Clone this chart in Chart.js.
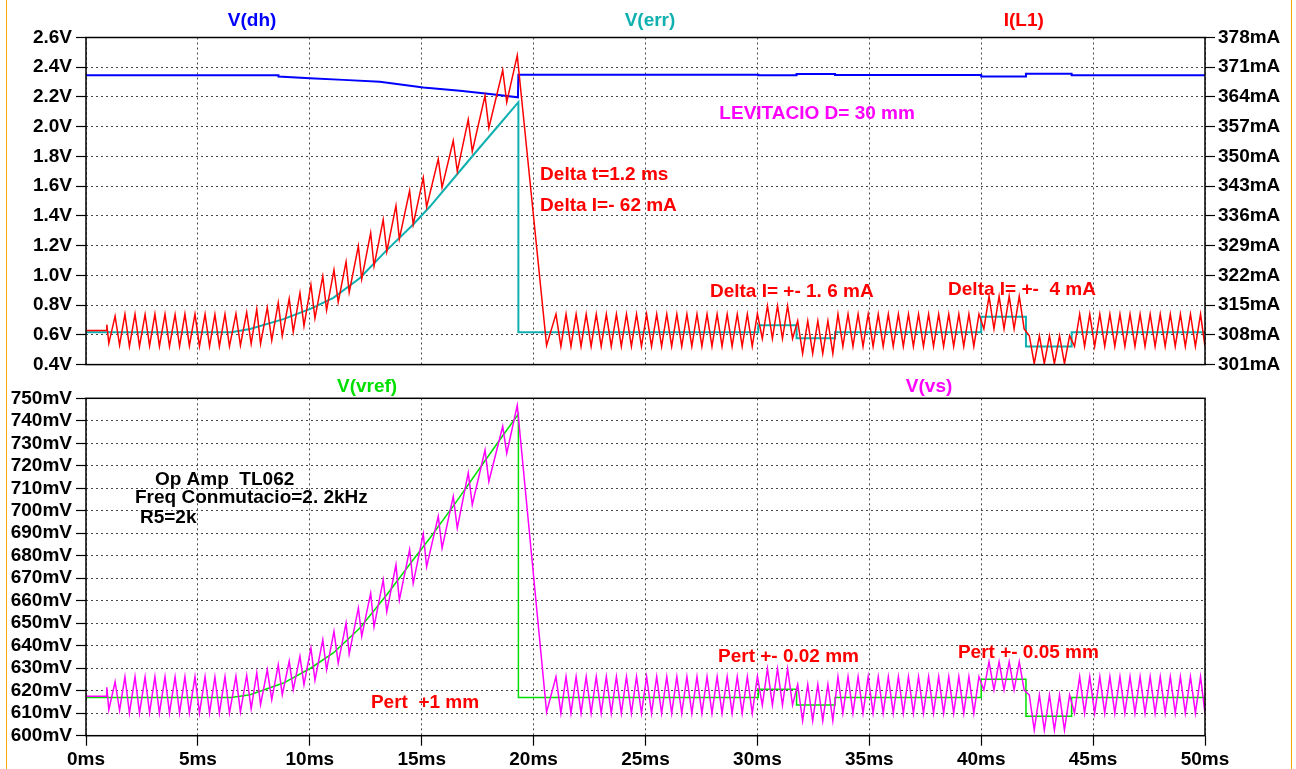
<!DOCTYPE html>
<html><head><meta charset="utf-8">
<script src="https://cdn.jsdelivr.net/npm/chart.js@4/dist/chart.umd.min.js"></script>
<style>
html,body{margin:0;padding:0;background:#fff;overflow:hidden;width:1296px;height:769px;}
#frame{position:absolute;left:6px;top:0;width:1286px;height:769px;border-left:1.5px solid #f5a800;border-right:1.5px solid #f5a800;box-sizing:border-box;}
canvas{position:absolute;left:0;}
#c1{top:0;} #c2{top:370px;}
</style></head><body>
<div id="frame"></div>
<canvas id="c1" width="1296" height="380"></canvas>
<canvas id="c2" width="1296" height="399"></canvas>
<script>
// ---------- tick labels ----------
const timeTicks = [0,5,10,15,20,25,30,35,40,45,50];
const dhTicks = [0.4,0.6,0.8,1.0,1.2,1.4,1.6,1.8,2.0,2.2,2.4,2.6];
const ilTicks = [301,308,315,322,329,336,343,350,357,364,371,378];
const vsTicks = [600,610,620,630,640,650,660,670,680,690,700,710,720,730,740,750];

// ---------- V(dh) ----------
const dhT = [0,8.6,8.6,10.0,11.5,13.13,15.07,16.71,18.05,19.30,19.32,30.04,30.04,31.75,31.75,33.47,33.47,40.0,40.0,42.0,42.0,44.04,44.04,50];
const dhV = [2.346,2.346,2.338,2.326,2.315,2.302,2.264,2.242,2.220,2.198,2.350,2.350,2.346,2.346,2.354,2.354,2.348,2.348,2.337,2.337,2.356,2.356,2.346,2.346];

// ---------- V(err) ----------
const errT = [0,6.5,7.33,8.82,10.05,11.05,12.24,13.44,14.62,15.37,16.5,17.45,18.5,19.32,19.32,30.04,30.04,31.75,31.75,33.47,33.47,40.0,40.0,42.0,42.0,44.04,44.04,50];
const errV = [0.617,0.617,0.639,0.706,0.776,0.849,0.982,1.170,1.342,1.463,1.665,1.835,2.020,2.165,0.617,0.617,0.665,0.665,0.577,0.577,0.617,0.617,0.721,0.721,0.522,0.522,0.617,0.617];

// ---------- V(vref) ----------
const vrefT = [0,6.5,7.33,8.82,10.05,11.05,12.24,13.44,14.62,15.37,16.56,17.6,18.65,19.32,19.32,30.04,30.04,31.75,31.75,33.47,33.47,40.0,40.0,42.0,42.0,44.04,44.04,50];
const vrefV = [617.0,617.0,618.2,623.4,630.1,636.8,647.9,662.7,678.2,687.9,704.2,719.0,733.8,743.0,617.0,617.0,620.7,620.7,613.6,613.6,617.0,617.0,625.1,625.1,608.7,608.7,617.0,617.0];

// ---------- switching waveforms: lead-in, then peak / trough per cycle ----------
const leadT = [0,0.90,0.93,1.02];
const ilLead = [309.0,309.0,310.4,306.0];
const vsLead = [617.5,617.5,621.5,611.5];

const swPeakT = [
 1.30,1.74,2.19,2.64,3.08,3.53,3.98,4.42,4.87,5.32,5.76,6.21,6.70,7.18,
 7.63,8.10,8.59,9.08,9.56,10.05,10.58,11.08,11.62,12.17,12.72,13.28,13.85,14.46,15.07,15.74,16.41,17.08,17.83,18.62,19.27,
 21.00,21.45,21.90,22.35,22.80,23.25,23.70,24.15,24.60,25.05,25.50,25.95,26.40,26.85,27.30,27.75,28.20,28.65,29.10,29.55,
 30.00,30.45,30.90,31.35,31.80,32.25,32.70,33.15,33.60,34.05,34.50,34.95,35.40,35.85,36.30,36.75,37.20,37.65,38.10,38.55,
 39.00,39.45,39.90,40.35,40.80,41.25,41.70,42.15,42.60,43.05,43.50,43.95,44.40,44.85,45.30,45.75,46.20,46.65,47.10,47.55,
 48.00,48.45,48.90,49.35,49.80];
const swTroughT = [
 1.50,1.94,2.39,2.84,3.28,3.73,4.18,4.62,5.07,5.52,5.96,6.41,6.90,7.38,
 7.80,8.30,8.77,9.26,9.74,10.23,10.75,11.27,11.76,12.32,12.87,13.44,14.00,14.62,15.22,15.91,16.59,17.26,18.00,18.80,20.58,
 21.22,21.67,22.12,22.57,23.02,23.47,23.92,24.37,24.82,25.27,25.72,26.17,26.62,27.07,27.52,27.97,28.42,28.87,29.32,29.77,
 30.22,30.67,31.12,31.57,32.02,32.47,32.92,33.37,33.82,34.27,34.72,35.17,35.62,36.07,36.52,36.97,37.42,37.87,38.32,38.77,
 39.22,39.67,40.12,40.57,41.02,41.47,41.92,42.37,42.82,43.27,43.72,44.17,44.62,45.07,45.52,45.97,46.42,46.87,47.32,47.77,
 48.22,48.67,49.12,49.57,50.00];

// I(L1) in mA
const ilPeak = [
 312.4,312.9,312.9,312.8,312.9,312.9,312.8,312.9,312.9,312.9,312.8,312.9,313.0,313.3,
 314.0,314.4,315.6,316.5,317.9,319.8,321.8,323.3,325.2,328.9,332.0,335.1,338.4,341.9,345.0,349.4,353.7,358.7,364.3,370.3,373.8,
 312.9,312.9,312.9,312.9,312.9,312.9,312.9,312.9,312.9,312.9,312.9,312.9,312.9,312.9,312.9,312.9,312.9,312.9,312.9,312.9,
 313.0,314.8,314.8,314.8,311.3,311.3,311.3,311.3,312.9,312.9,312.9,312.9,312.9,312.9,312.9,312.9,312.9,312.9,312.9,312.9,
 312.9,312.9,312.9,317.1,317.1,317.1,317.1,307.8,307.8,307.8,307.8,307.8,312.9,312.9,312.9,312.9,312.9,312.9,312.9,312.9,
 312.9,312.9,312.9,312.9,312.9];
const ilTrough = [
 305.6,305.3,305.3,305.4,305.3,305.3,305.3,305.4,305.3,305.3,305.3,305.3,305.5,305.9,
 305.9,306.7,307.7,308.7,310.1,311.9,313.8,315.7,318.0,321.1,324.2,327.6,330.6,334.0,338.1,342.7,346.5,351.2,356.7,362.8,305.5,
 305.3,305.3,305.3,305.3,305.3,305.3,305.3,305.3,305.3,305.3,305.3,305.3,305.3,305.3,305.3,305.3,305.3,305.3,305.3,305.3,
 307.1,307.1,307.1,307.1,303.6,303.6,303.6,303.6,305.3,305.3,305.3,305.3,305.3,305.3,305.3,305.3,305.3,305.3,305.3,305.3,
 305.3,305.3,309.4,309.4,309.4,309.4,309.4,301.2,301.2,301.2,301.2,305.3,305.3,305.3,305.3,305.3,305.3,305.3,305.3,305.3,
 305.3,305.3,305.3,305.3,305.3];

// V(vs) in mV
const vsPeak = [
 624.0,626.2,626.2,626.1,626.2,626.2,626.1,626.2,626.2,626.2,626.1,626.2,626.4,626.8,
 627.9,629.3,631.5,633.1,635.3,639.0,642.7,646.4,650.1,656.8,663.4,669.3,676.0,682.7,689.7,697.5,706.4,716.8,727.0,737.5,746.9,
 626.2,626.2,626.2,626.2,626.2,626.2,626.2,626.2,626.2,626.2,626.2,626.2,626.2,626.2,626.2,626.2,626.2,626.2,626.2,626.2,
 626.4,629.8,629.8,629.8,622.8,622.8,622.8,622.8,626.2,626.2,626.2,626.2,626.2,626.2,626.2,626.2,626.2,626.2,626.2,626.2,
 626.2,626.2,626.2,632.9,632.9,632.9,632.9,618.1,618.1,618.1,618.1,618.1,626.2,626.2,626.2,626.2,626.2,626.2,626.2,626.2,
 626.2,626.2,626.2,626.2,626.2];
const vsTrough = [
 611.2,610.0,610.0,610.1,610.0,610.0,610.0,610.1,610.0,610.0,610.0,610.0,610.6,612.0,
 613.8,616.0,618.2,620.4,622.7,624.7,629.3,632.3,636.3,644.2,648.4,655.1,660.3,667.7,675.1,683.4,692.3,702.7,713.0,725.5,610.5,
 610.0,610.0,610.0,610.0,610.0,610.0,610.0,610.0,610.0,610.0,610.0,610.0,610.0,610.0,610.0,610.0,610.0,610.0,610.0,610.0,
 613.6,613.6,613.6,613.6,606.6,606.6,606.6,606.6,610.0,610.0,610.0,610.0,610.0,610.0,610.0,610.0,610.0,610.0,610.0,610.0,
 610.0,610.0,620.3,620.3,620.3,620.3,620.3,602.5,602.5,602.5,602.5,610.0,610.0,610.0,610.0,610.0,610.0,610.0,610.0,610.0,
 610.0,610.0,610.0,610.0,610.0];

// ---------- build point lists from the arrays ----------
function pairs(ts, vs) { return ts.map((t, i) => ({x: t, y: vs[i]})); }
function wave(lt, lv, pt, pv, tt, tv) {
  const out = pairs(lt, lv);
  pt.forEach((t, i) => { out.push({x: t, y: pv[i]}); out.push({x: tt[i], y: tv[i]}); });
  return out;
}

const FONT = '"Liberation Sans", Arial, Helvetica, sans-serif';
Chart.defaults.font.family = FONT;
Chart.defaults.color = '#000';

const textPlugin = {
  id: 'textPlugin',
  afterDatasetsDraw(chart, args, o) {
    const {ctx, chartArea: a, scales} = chart;
    ctx.save();
    ctx.strokeStyle = '#000'; ctx.lineWidth = 1.5;
    ctx.strokeRect(a.left, a.top, a.right - a.left, a.bottom - a.top);
    ctx.textBaseline = 'middle';
    ctx.font = 'bold 19px ' + FONT; ctx.textAlign = 'center';
    (o.titles || []).forEach(t => { ctx.fillStyle = t.color; ctx.fillText(t.text, scales.x.getPixelForValue(t.x), a.top - t.dy); });
    ctx.font = 'bold 19px ' + FONT; ctx.textAlign = 'left';
    (o.notes || []).forEach(n => { ctx.fillStyle = n.color; ctx.fillText(n.text, scales.x.getPixelForValue(n.x), scales[n.axis].getPixelForValue(n.y)); });
    ctx.restore();
  }
};

const tickFont = {size: 19, weight: 'bold', family: FONT};
const gridBase = {color: '#484848', lineWidth: 1, tickLength: 10, tickColor: '#000', tickWidth: 1.2};
function setTicks(arr) { return s => { s.ticks = arr.map(v => ({value: v})); }; }

// ---------- top chart ----------
new Chart(document.getElementById('c1'), {
  type: 'line',
  data: {datasets: [
    {label: 'I(L1)', data: wave(leadT, ilLead, swPeakT, ilPeak, swTroughT, ilTrough), yAxisID: 'yR', borderColor: '#ff0000', borderWidth: 1.5, order: 1},
    {label: 'V(err)', data: pairs(errT, errV), yAxisID: 'yL', borderColor: '#10b0b0', borderWidth: 2, order: 2},
    {label: 'V(dh)', data: pairs(dhT, dhV), yAxisID: 'yL', borderColor: '#0000ff', borderWidth: 2, order: 3}
  ]},
  options: {
    responsive: false, animation: false, devicePixelRatio: 1,
    layout: {padding: {top: 37.5, bottom: 11, left: 0, right: 0}},
    elements: {point: {radius: 0}, line: {tension: 0}},
    plugins: {legend: {display: false}, tooltip: {enabled: false},
      textPlugin: {
        titles: [{text: 'V(dh)', x: 7.42, dy: 17, color: '#0000ff'}, {text: 'V(err)', x: 25.2, dy: 17, color: '#10b0b0'}, {text: 'I(L1)', x: 41.9, dy: 17, color: '#ff0000'}],
        notes: [
          {text: 'LEVITACIO D= 30 mm', x: 28.3, y: 2.09, axis: 'yL', color: '#ff00ff'},
          {text: 'Delta t=1.2 ms', x: 20.29, y: 1.676, axis: 'yL', color: '#ff0000'},
          {text: 'Delta I=- 62 mA', x: 20.29, y: 1.470, axis: 'yL', color: '#ff0000'},
          {text: 'Delta I= +- 1. 6 mA', x: 27.88, y: 0.887, axis: 'yL', color: '#ff0000'},
          {text: 'Delta I= +-  4 mA', x: 38.52, y: 0.90, axis: 'yL', color: '#ff0000'}
        ]}},
    scales: {
      x: {type: 'linear', min: 0, max: 50, afterBuildTicks: setTicks(timeTicks),
          ticks: {display: false}, grid: Object.assign({}, gridBase, {drawTicks: false}),
          border: {display: false, dash: [2, 3]}, afterFit: s => { s.height = 0; }},
      yL: {type: 'linear', position: 'left', min: 0.4, max: 2.6, afterBuildTicks: setTicks(dhTicks),
          ticks: {font: tickFont, padding: 4, autoSkip: false, callback: v => v.toFixed(1) + 'V'},
          grid: gridBase, border: {display: false, dash: [2, 3]}, afterFit: s => { s.width = 86; }},
      yR: {type: 'linear', position: 'right', min: 301, max: 378, afterBuildTicks: setTicks(ilTicks),
          ticks: {font: tickFont, padding: 3, autoSkip: false, callback: v => Math.round(v) + 'mA'},
          grid: Object.assign({}, gridBase, {drawOnChartArea: false}), border: {display: false}, afterFit: s => { s.width = 91; }}
    }
  },
  plugins: [textPlugin]
});

// ---------- bottom chart ----------
new Chart(document.getElementById('c2'), {
  type: 'line',
  data: {datasets: [
    {label: 'V(vs)', data: wave(leadT, vsLead, swPeakT, vsPeak, swTroughT, vsTrough), borderColor: '#ff00ff', borderWidth: 1.5, order: 1},
    {label: 'V(vref)', data: pairs(vrefT, vrefV), borderColor: '#00e000', borderWidth: 1.5, order: 2}
  ]},
  options: {
    responsive: false, animation: false, devicePixelRatio: 1,
    layout: {padding: {top: 28.3, bottom: 0, left: 0, right: 91}},
    elements: {point: {radius: 0}, line: {tension: 0}},
    plugins: {legend: {display: false}, tooltip: {enabled: false},
      textPlugin: {
        titles: [{text: 'V(vref)', x: 12.56, dy: 12, color: '#00e000'}, {text: 'V(vs)', x: 37.67, dy: 12, color: '#ff00ff'}],
        notes: [
          {text: 'Op Amp  TL062', x: 3.08, y: 713.7, axis: 'y', color: '#000'},
          {text: 'Freq Conmutacio=2. 2kHz', x: 2.19, y: 705.7, axis: 'y', color: '#000'},
          {text: 'R5=2k', x: 2.41, y: 697.0, axis: 'y', color: '#000'},
          {text: 'Pert  +1 mm', x: 12.73, y: 614.5, axis: 'y', color: '#ff0000'},
          {text: 'Pert +- 0.02 mm', x: 28.24, y: 634.9, axis: 'y', color: '#ff0000'},
          {text: 'Pert +- 0.05 mm', x: 38.96, y: 636.7, axis: 'y', color: '#ff0000'}
        ]}},
    scales: {
      x: {type: 'linear', min: 0, max: 50, afterBuildTicks: setTicks(timeTicks),
          ticks: {font: tickFont, padding: 3, maxRotation: 0, autoSkip: false, callback: v => v + 'ms'},
          grid: gridBase, border: {display: false, dash: [2, 3]}, afterFit: s => { s.height = 33.3; }},
      y: {type: 'linear', position: 'left', min: 600, max: 750, afterBuildTicks: setTicks(vsTicks),
          ticks: {font: tickFont, padding: 4, autoSkip: false, callback: v => Math.round(v) + 'mV'},
          grid: gridBase, border: {display: false, dash: [2, 3]}, afterFit: s => { s.width = 86; }}
    }
  },
  plugins: [textPlugin]
});
</script></body></html>
